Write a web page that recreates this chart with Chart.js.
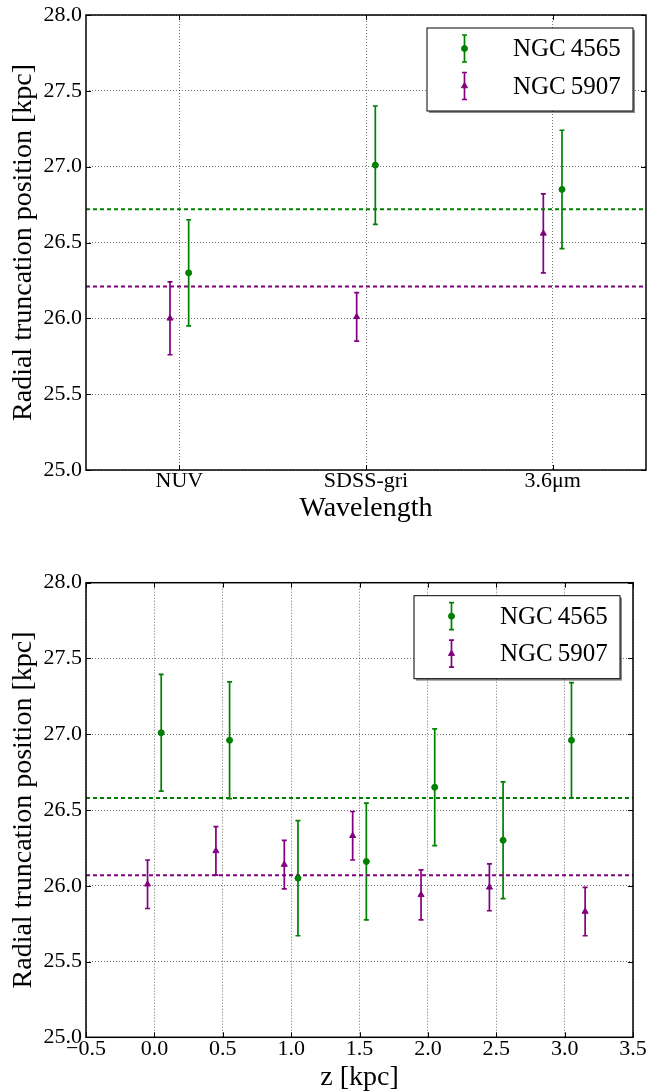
<!DOCTYPE html>
<html>
<head>
<meta charset="utf-8">
<script src="https://cdn.jsdelivr.net/npm/chart.js@4.4.1/dist/chart.umd.min.js"></script>
<style>
  html, body { margin: 0; padding: 0; background: #fff; }
  .panel { position: relative; width: 667px; height: 546px; }
</style>
</head>
<body>
<div class="panel"><canvas id="chartBand"></canvas></div>
<div class="panel"><canvas id="chartZ"></canvas></div>
<script>
// top panel: truncation radius per band
const bandNames = ['NUV', 'SDSS-gri', '3.6μm'];
const bandPos = [0, 1, 2];
const n4565Band = [26.30, 27.01, 26.85];
const n4565BandErr = [0.35, 0.39, 0.39];
const n5907Band = [26.00, 26.01, 26.56];
const n5907BandErr = [0.24, 0.16, 0.26];
const bandMeans = [26.72, 26.21];   // NGC 4565, NGC 5907

// bottom panel: truncation radius vs height above the plane
const n4565Z = [0.0, 0.5, 1.0, 1.5, 2.0, 2.5, 3.0];
const n4565ZVal = [27.01, 26.96, 26.05, 26.16, 26.65, 26.30, 26.96];
const n4565ZErr = [0.385, 0.385, 0.38, 0.385, 0.385, 0.385, 0.38];
const n5907Z = [0.0, 0.5, 1.0, 1.5, 2.0, 2.5, 3.2];
const n5907ZVal = [26.01, 26.23, 26.14, 26.33, 25.94, 25.99, 25.83];
const n5907ZErr = [0.16, 0.16, 0.16, 0.16, 0.165, 0.155, 0.16];
const zMeans = [26.58, 26.07];

const yTicks = [25.0, 25.5, 26.0, 26.5, 27.0, 27.5, 28.0];
const zTicks = [-0.5, 0.0, 0.5, 1.0, 1.5, 2.0, 2.5, 3.0, 3.5];
const bandLim = [-0.5, 2.5];
const zLim = [-0.5, 3.5];
const dodge = 0.05;

const GREEN = '#008000';
const PURPLE = '#800080';
const SERIF = "'Liberation Serif', 'DejaVu Serif', serif";

function points(xs, ys, shift) {
    return xs.map((x, i) => ({x: x + shift, y: ys[i]}));
}

function meanLine(lim, value, color) {
    return {
        type: 'line',
        data: [{x: lim[0], y: value}, {x: lim[1], y: value}],
        borderColor: color,
        borderWidth: 2,
        borderDash: [4, 3],
        pointRadius: 0,
        fill: false
    };
}

function series(label, data, errors, color, style, radius) {
    return {
        type: 'scatter',
        label: label,
        data: data,
        errors: errors,
        inLegend: true,
        borderColor: color,
        backgroundColor: color,
        pointStyle: style,
        pointRadius: radius,
        pointBorderWidth: 1
    };
}

// vertical error bars with caps, drawn under the markers
const errorBars = {
    id: 'errorBars',
    beforeDatasetsDraw(chart) {
        const ctx = chart.ctx;
        const xs = chart.scales.x, ys = chart.scales.y;
        chart.data.datasets.forEach(ds => {
            if (!ds.errors) return;
            ctx.save();
            ctx.strokeStyle = ds.borderColor;
            ctx.lineWidth = 1.7;
            ds.data.forEach((p, j) => {
                const px = xs.getPixelForValue(p.x);
                const top = ys.getPixelForValue(p.y + ds.errors[j]);
                const bot = ys.getPixelForValue(p.y - ds.errors[j]);
                ctx.beginPath();
                ctx.moveTo(px, top); ctx.lineTo(px, bot);
                ctx.moveTo(px - 2.5, top); ctx.lineTo(px + 2.5, top);
                ctx.moveTo(px - 2.5, bot); ctx.lineTo(px + 2.5, bot);
                ctx.stroke();
            });
            ctx.restore();
        });
    }
};

// matplotlib-like frame, inward ticks and legend box
const mplFrame = {
    id: 'mplFrame',
    afterDraw(chart) {
        const ctx = chart.ctx;
        const a = chart.chartArea;
        const xs = chart.scales.x, ys = chart.scales.y;
        ctx.save();
        ctx.strokeStyle = '#000';
        ctx.lineWidth = 1;
        ctx.beginPath();
        xs.ticks.forEach(t => {
            const px = Math.round(xs.getPixelForValue(t.value)) + 0.5;
            ctx.moveTo(px, a.bottom); ctx.lineTo(px, a.bottom - 5);
            ctx.moveTo(px, a.top); ctx.lineTo(px, a.top + 5);
        });
        ys.ticks.forEach(t => {
            const py = Math.round(ys.getPixelForValue(t.value)) + 0.5;
            ctx.moveTo(a.left, py); ctx.lineTo(a.left + 5, py);
            ctx.moveTo(a.right, py); ctx.lineTo(a.right - 5, py);
        });
        ctx.stroke();
        ctx.lineWidth = 1.5;
        ctx.strokeRect(a.left, a.top, a.right - a.left, a.bottom - a.top);

        // legend
        const entries = chart.data.datasets.filter(ds => ds.inLegend);
        const w = 206, h = 83;
        const x0 = a.right - 13 - w, y0 = a.top + 13;
        ctx.fillStyle = 'rgba(0,0,0,0.45)';
        ctx.fillRect(x0 + 2, y0 + 2, w, h);
        ctx.fillStyle = '#fff';
        ctx.fillRect(x0, y0, w, h);
        ctx.lineWidth = 1;
        ctx.strokeStyle = '#000';
        ctx.strokeRect(x0, y0, w, h);
        entries.forEach((ds, i) => {
            const cy = y0 + 20.5 + i * 37.5;
            const mx = x0 + 37.5;
            ctx.strokeStyle = ds.borderColor;
            ctx.fillStyle = ds.backgroundColor;
            ctx.lineWidth = 1.7;
            ctx.beginPath();
            ctx.moveTo(mx, cy - 13.5); ctx.lineTo(mx, cy + 13.5);
            ctx.moveTo(mx - 2.5, cy - 13.5); ctx.lineTo(mx + 2.5, cy - 13.5);
            ctx.moveTo(mx - 2.5, cy + 13.5); ctx.lineTo(mx + 2.5, cy + 13.5);
            ctx.stroke();
            ctx.lineWidth = 1;
            Chart.helpers.drawPoint(ctx, {pointStyle: ds.pointStyle, radius: ds.pointRadius, rotation: 0, borderWidth: 1}, mx, cy);
            ctx.fillStyle = '#000';
            ctx.font = '25px ' + SERIF;
            ctx.textAlign = 'left';
            ctx.textBaseline = 'middle';
            ctx.fillText(ds.label, x0 + 86, cy + 1);
        });
        ctx.restore();
    }
};

function yAxis() {
    return {
        min: yTicks[0],
        max: yTicks[yTicks.length - 1],
        afterBuildTicks: s => { s.ticks = yTicks.map(v => ({value: v})); },
        afterFit: s => { s.width = 86; },
        grid: { color: 'rgba(0,0,0,0.55)', lineWidth: 1, drawTicks: false },
        border: { display: false, dash: [1, 2] },
        ticks: {
            color: '#000',
            padding: 4,
            font: { family: SERIF, size: 22, lineHeight: 1 },
            callback: v => v.toFixed(1)
        },
        title: {
            display: true,
            text: 'Radial truncation position [kpc]',
            color: '#000',
            font: { family: SERIF, size: 28, lineHeight: 1 },
            padding: { top: 10, bottom: 0 }
        }
    };
}

function xAxis(lim, ticks, label, fmt, height, tickPad, titlePad) {
    return {
        type: 'linear',
        min: lim[0],
        max: lim[1],
        afterBuildTicks: s => { s.ticks = ticks.map(v => ({value: v})); },
        afterFit: s => { s.height = height; },
        grid: { color: 'rgba(0,0,0,0.55)', lineWidth: 1, drawTicks: false },
        border: { display: false, dash: [1, 2] },
        ticks: {
            color: '#000',
            padding: tickPad,
            autoSkip: false,
            maxRotation: 0,
            font: { family: SERIF, size: 22, lineHeight: 1 },
            callback: fmt
        },
        title: {
            display: true,
            text: label,
            color: '#000',
            font: { family: SERIF, size: 28, lineHeight: 1 },
            padding: { top: 0, bottom: titlePad }
        }
    };
}

function baseOptions(x, padding) {
    return {
        responsive: true,
        maintainAspectRatio: false,
        animation: false,
        layout: { padding: padding },
        plugins: { legend: { display: false }, tooltip: { enabled: false } },
        scales: { x: x, y: yAxis() }
    };
}

new Chart(document.getElementById('chartBand'), {
    type: 'scatter',
    data: {
        datasets: [
            series('NGC\u20094565', points(bandPos, n4565Band, dodge), n4565BandErr, GREEN, 'circle', 3),
            series('NGC\u20095907', points(bandPos, n5907Band, -dodge), n5907BandErr, PURPLE, 'triangle', 3.5),
            meanLine(bandLim, bandMeans[0], GREEN),
            meanLine(bandLim, bandMeans[1], PURPLE)
        ]
    },
    options: baseOptions(
        xAxis(bandLim, bandPos, 'Wavelength', v => bandNames[bandPos.indexOf(v)], 76, 0, 23),
        { top: 12, right: 21, bottom: 0, left: 0 }
    ),
    plugins: [errorBars, mplFrame]
});

new Chart(document.getElementById('chartZ'), {
    type: 'scatter',
    data: {
        datasets: [
            series('NGC\u20094565', points(n4565Z, n4565ZVal, dodge), n4565ZErr, GREEN, 'circle', 3),
            series('NGC\u20095907', points(n5907Z, n5907ZVal, -dodge), n5907ZErr, PURPLE, 'triangle', 3.5),
            meanLine(zLim, zMeans[0], GREEN),
            meanLine(zLim, zMeans[1], PURPLE)
        ]
    },
    options: baseOptions(
        xAxis(zLim, zTicks, 'z [kpc]', v => v.toFixed(1).replace('-', '\u2212'), 54.7, 1, 0),
        { top: 36.7, right: 34, bottom: 0, left: 0 }
    ),
    plugins: [errorBars, mplFrame]
});
</script>
</body>
</html>
